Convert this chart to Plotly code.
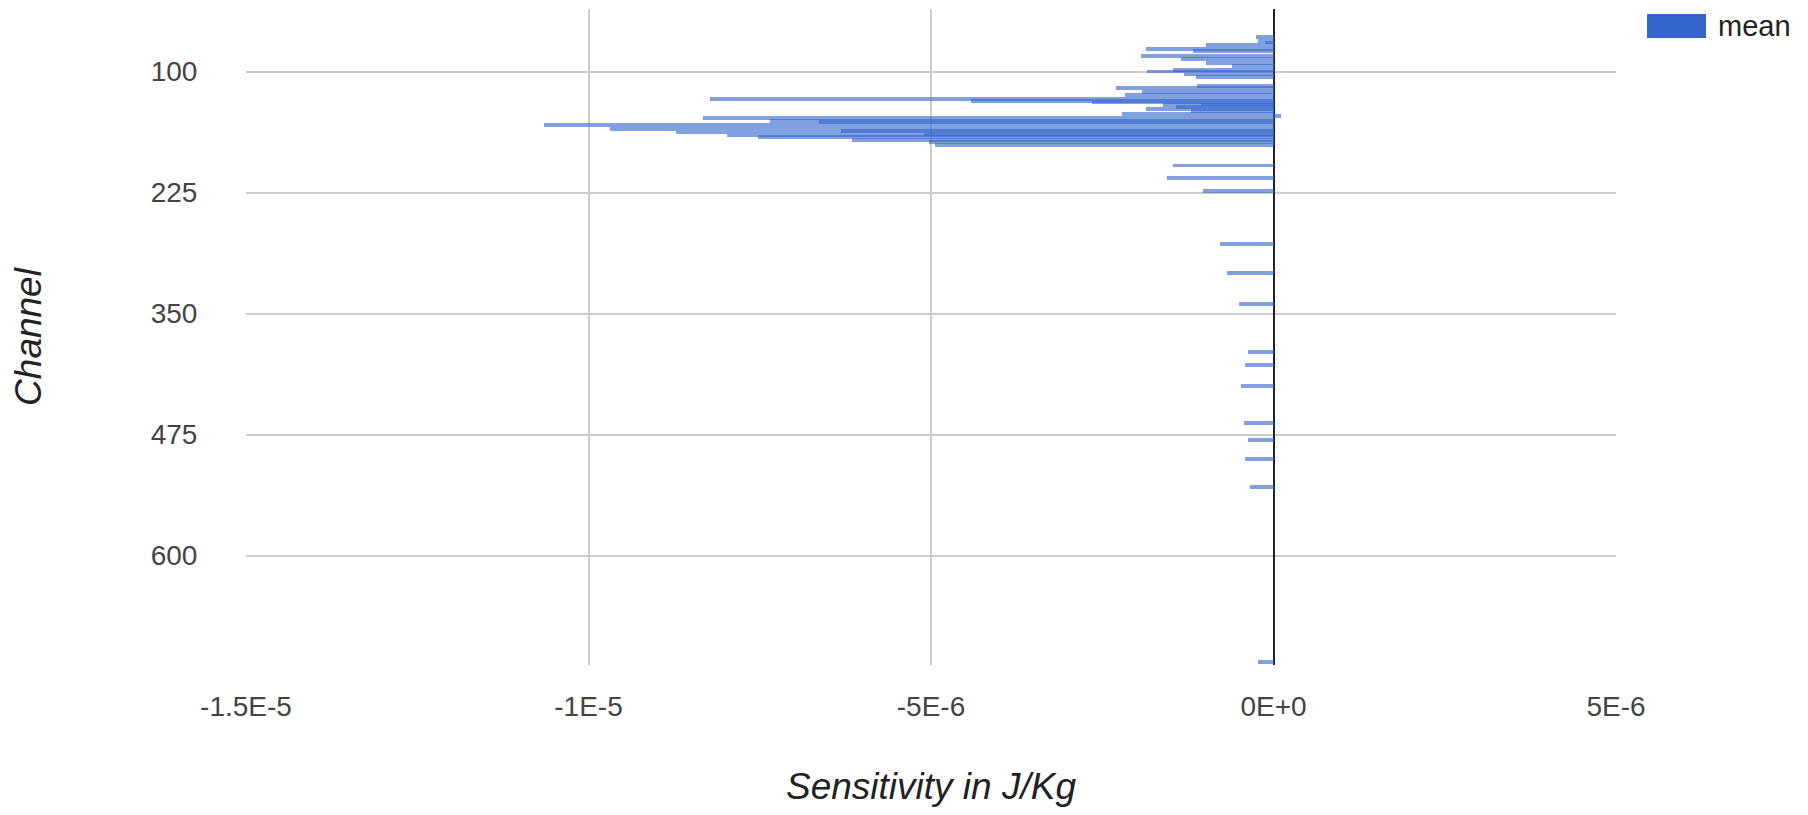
import plotly.graph_objects as go

# Channel numbers and mean sensitivity (J/Kg)
channels = [64, 68, 70, 73, 77, 79, 84, 87, 91, 94, 98, 100, 103, 106,
            115, 117, 121, 124, 128, 130, 132, 134, 135, 137, 139, 141, 144, 146,
            148, 151, 152, 155, 159, 161, 163, 165, 166, 168, 171, 173, 176,
            197, 210, 223, 278, 308, 340, 390, 403, 425, 463, 481, 500, 529, 710]
means = [-2.52e-7, -2.23e-7, -1.17e-7, -9.92e-7, -1.868e-6, -1.168e-6, -1.931e-6, -1.357e-6,
         -9.92e-7, -6.03e-7, -1.464e-6, -1.843e-6, -1.309e-6, -1.138e-6,
         -1.124e-6, -2.296e-6, -1.916e-6, -2.170e-6, -8.231e-6, -4.422e-6, -2.656e-6,
         -1.065e-6, -1.616e-6, -1.430e-6, -1.868e-6, -1.211e-6, -2.208e-6, 1.12e-7,
         -8.323e-6, -7.355e-6, -6.640e-6, -1.0649e-5, -9.690e-6, -6.319e-6, -8.727e-6,
         -5.108e-6, -7.983e-6, -7.520e-6, -6.159e-6, -5.031e-6, -4.947e-6,
         -1.464e-6, -1.551e-6, -1.026e-6, -7.84e-7, -6.86e-7, -5.01e-7, -3.75e-7,
         -4.09e-7, -4.71e-7, -4.38e-7, -3.79e-7, -4.09e-7, -3.46e-7, -2.23e-7]

x_tickvals = [-1.5e-5, -1e-5, -5e-6, 0, 5e-6]
x_ticktext = ["-1.5E-5", "-1E-5", "-5E-6", "0E+0", "5E-6"]
y_tickvals = [100, 225, 350, 475, 600]
y_ticktext = ["100", "225", "350", "475", "600"]

FONT = "Arial, Liberation Sans, sans-serif"

fig = go.Figure()
fig.add_trace(go.Bar(
    x=means, y=channels, orientation="h", width=4.0,
    marker=dict(color="rgba(51,102,204,0.62)", line=dict(width=0)),
    name="mean", showlegend=False,
))

fig.update_layout(
    width=1808, height=815,
    margin=dict(l=246, r=192, t=9, b=150),
    plot_bgcolor="white", paper_bgcolor="white",
    barmode="overlay", bargap=0,
    font=dict(family=FONT, color="#444444"),
    xaxis=dict(
        range=[-1.5e-5, 5e-6], tickvals=x_tickvals, ticktext=x_ticktext,
        showgrid=True, gridcolor="#cccccc", gridwidth=1.5,
        zeroline=True, zerolinecolor="#222222", zerolinewidth=2,
        ticks="outside", ticklen=16, tickcolor="rgba(0,0,0,0)",
        tickfont=dict(size=28, color="#444444", family=FONT),
        showline=False,
        title=dict(text="Sensitivity in J/Kg", standoff=52,
                   font=dict(size=37, color="#222222", family=FONT, style="italic")),
    ),
    yaxis=dict(
        range=[713, 35.4], tickvals=y_tickvals, ticktext=y_ticktext,
        showgrid=True, gridcolor="#cccccc", gridwidth=1.5,
        zeroline=False,
        ticks="outside", ticklen=42, tickcolor="rgba(0,0,0,0)",
        tickfont=dict(size=28, color="#444444", family=FONT),
        showline=False,
        title=dict(text="Channel", standoff=97,
                   font=dict(size=37, color="#222222", family=FONT, style="italic")),
    ),
)

# legend
fig.add_shape(type="rect", xref="paper", yref="paper",
              x0=(1647 - 246) / (1808 - 246 - 192), x1=(1706 - 246) / (1808 - 246 - 192),
              y0=(665 - 38) / (665 - 9), y1=(665 - 14) / (665 - 9),
              fillcolor="#3366cc", line=dict(width=0))
fig.add_annotation(text="mean", xref="paper", yref="paper",
                   x=(1716 - 246) / (1808 - 246 - 192), y=(665 - 26) / (665 - 9),
                   xanchor="left", yanchor="middle", showarrow=False,
                   font=dict(size=29, color="#222222", family=FONT))

fig.write_html("out.html")
